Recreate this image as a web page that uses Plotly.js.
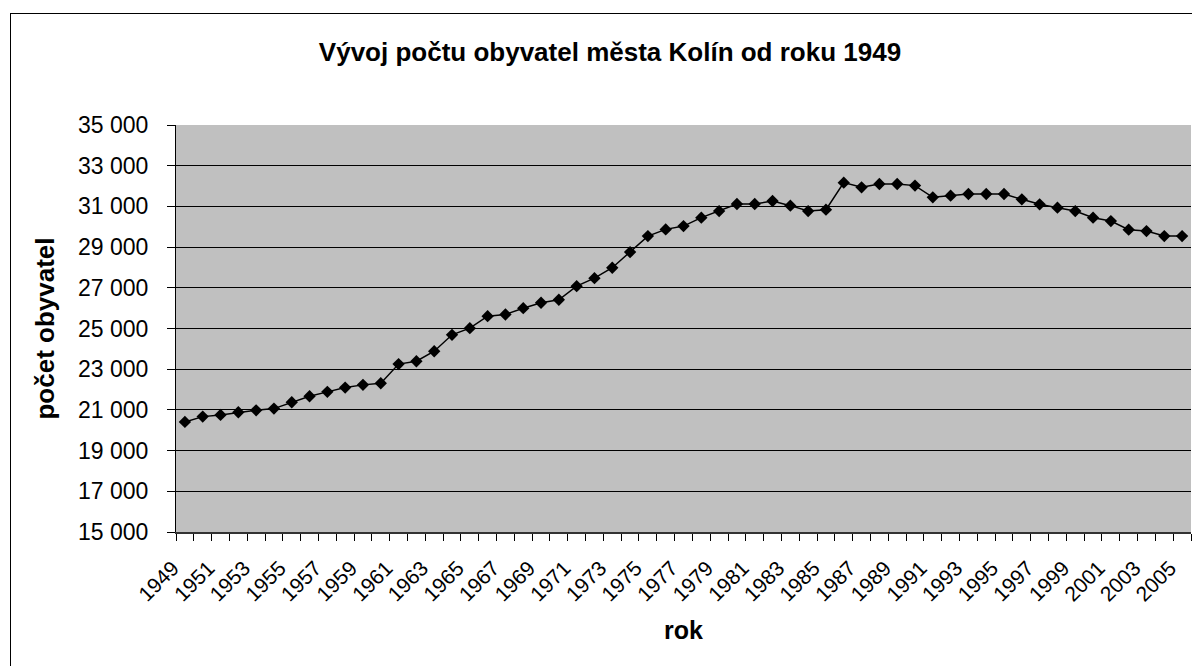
<!DOCTYPE html>
<html><head><meta charset="utf-8">
<script src="https://cdn.plot.ly/plotly-3.0.1.min.js"></script>
<style>
html,body{margin:0;padding:0;overflow:hidden;background:#fff;width:1192px;height:666px;}
#chart{position:absolute;left:0;top:0;width:1192px;height:666px;}
#frame{position:absolute;left:10px;top:13px;width:1300px;height:800px;border:1px solid #000;pointer-events:none;}
</style></head>
<body><div id="chart"></div><div id="frame"></div>
<script>
const years = [1949,1950,1951,1952,1953,1954,1955,1956,1957,1958,1959,1960,1961,1962,1963,1964,1965,1966,1967,1968,1969,1970,1971,1972,1973,1974,1975,1976,1977,1978,1979,1980,1981,1982,1983,1984,1985,1986,1987,1988,1989,1990,1991,1992,1993,1994,1995,1996,1997,1998,1999,2000,2001,2002,2003,2004,2005];
const population = [20410,20670,20754,20882,20980,21064,21374,21669,21886,22097,22230,22309,23250,23390,23883,24690,25015,25605,25689,25999,26264,26412,27081,27475,27986,28754,29541,29871,30033,30446,30771,31116,31116,31263,31037,30771,30840,32168,31937,32100,32100,32021,31445,31529,31608,31608,31608,31347,31101,30938,30771,30446,30279,29856,29787,29541,29541];
const tickYears = [1949,1951,1953,1955,1957,1959,1961,1963,1965,1967,1969,1971,1973,1975,1977,1979,1981,1983,1985,1987,1989,1991,1993,1995,1997,1999,2001,2003,2005];
const yTicks = [15000,17000,19000,21000,23000,25000,27000,29000,31000,33000,35000];

const FONT = '"Liberation Sans", Arial, sans-serif';

const trace = {
  type: 'scatter', mode: 'lines+markers',
  x: years, y: population,
  line: {color: '#000', width: 1.5},
  marker: {symbol: 'diamond', size: 9.5, color: '#000'},
  showlegend: false, hoverinfo: 'x+y'
};

const layout = {
  width: 1192, height: 666,
  margin: {l: 176, r: 1, t: 125, b: 134, autoexpand: false},
  paper_bgcolor: '#fff', plot_bgcolor: '#C0C0C0',
  separators: '. ',
  font: {family: FONT, color: '#000'},
  title: {text: '<b>Vývoj počtu obyvatel města Kolín od roku 1949</b>',
    font: {family: FONT, size: 26, color: '#000'},
    xref: 'container', yref: 'container', x: 610/1192, xanchor: 'center',
    y: 1 - 52/666, yanchor: 'middle'},
  xaxis: {
    type: 'linear', range: [1948.5, 2005.5], autorange: false,
    tickmode: 'array', tickvals: tickYears, ticktext: tickYears.map(String),
    ticks: '', tickangle: -45, tickfont: {family: FONT, size: 21, color: '#000'},
    ticklabelstandoff: 14, ticklabelshift: -12,
    showgrid: false, zeroline: false,
    showline: true, linecolor: '#333', linewidth: 1.5,
    minor: {ticks: 'outside', tick0: 1948.5, dtick: 1, ticklen: 7, tickcolor: '#000', tickwidth: 1, showgrid: false},
    title: {text: '<b>rok</b>', font: {family: FONT, size: 25, color: '#000'}, standoff: 17}
  },
  yaxis: {
    range: [15000, 35000], autorange: false,
    tickmode: 'array', tickvals: yTicks,
    tickformat: ',d',
    ticks: 'outside', ticklen: 8, tickcolor: '#000', tickwidth: 1,
    ticklabelstandoff: 14,
    tickfont: {family: FONT, size: 23, color: '#000'},
    showgrid: true, gridcolor: '#000', gridwidth: 1,
    zeroline: false, showline: true, linecolor: '#000', linewidth: 1,
    title: {text: '<b>počet obyvatel</b>', font: {family: FONT, size: 26, color: '#000'}, standoff: 15}
  }
};

Plotly.newPlot('chart', [trace], layout, {staticPlot: true, displayModeBar: false});
</script>
</body></html>
